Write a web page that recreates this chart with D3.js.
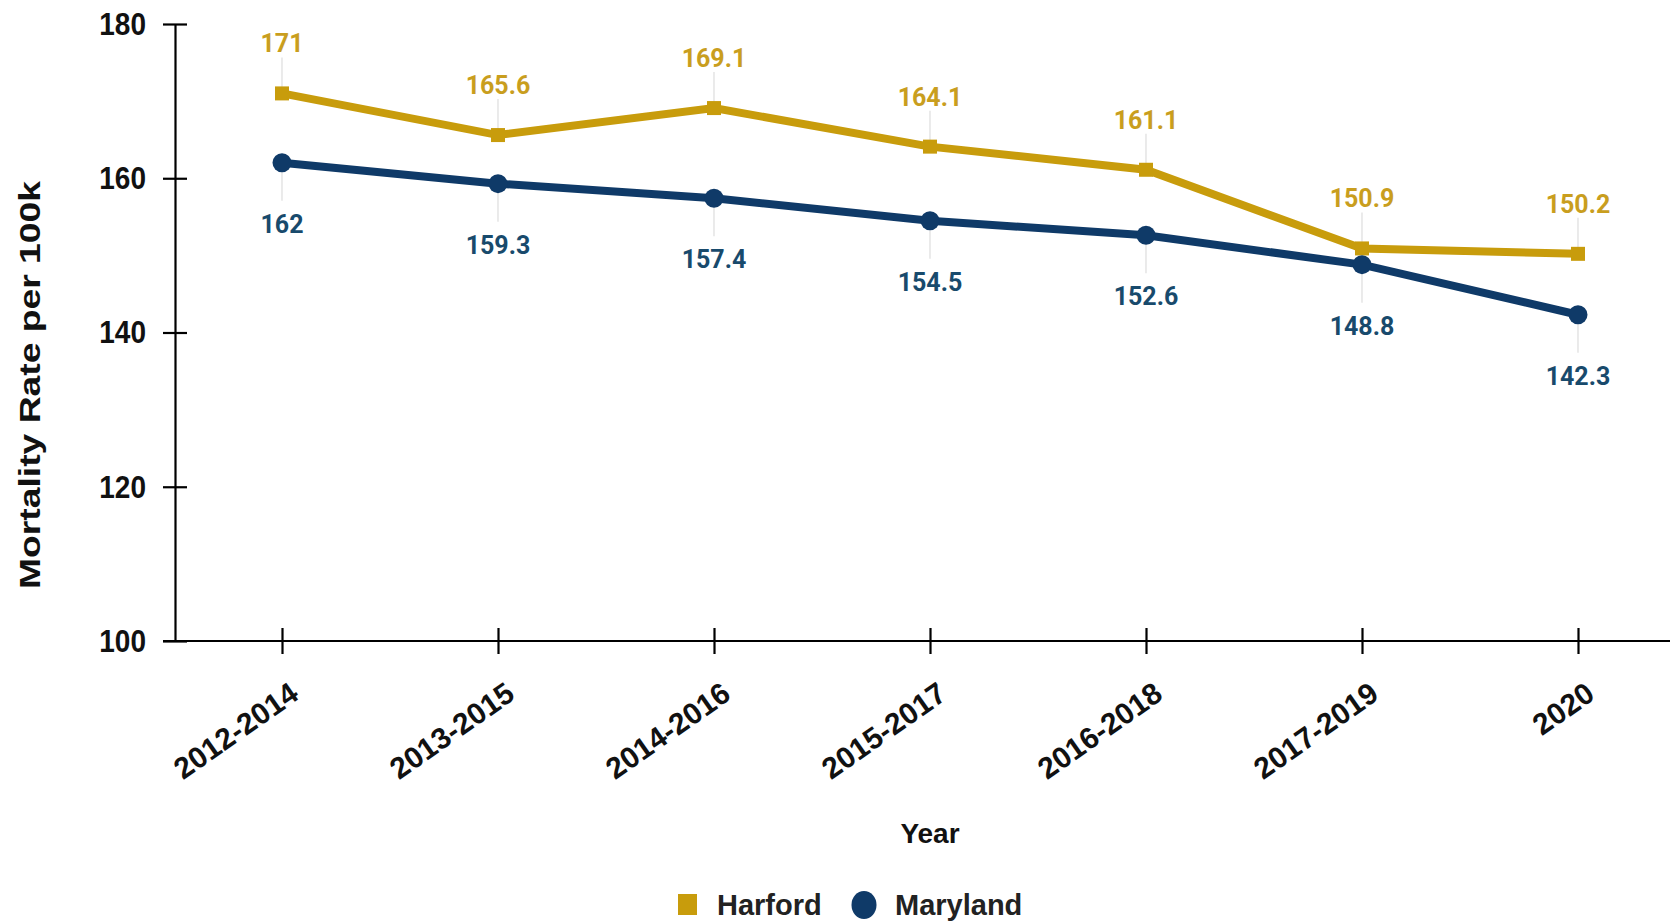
<!DOCTYPE html>
<html>
<head>
<meta charset="utf-8">
<script src="https://cdn.jsdelivr.net/npm/d3@7"></script>
<style>
  body { margin: 0; background: #ffffff; }
  svg { display: block; }
</style>
</head>
<body>
<div id="vis"></div>
<script>
// data
const YEARS = ["2012-2014", "2013-2015", "2014-2016", "2015-2017", "2016-2018", "2017-2019", "2020"];
const HARFORD = [171, 165.6, 169.1, 164.1, 161.1, 150.9, 150.2];
const MARYLAND = [162, 159.3, 157.4, 154.5, 152.6, 148.8, 142.3];
const Y_TICKS = [100, 120, 140, 160, 180];

//Declare constants for frame
const FRAME_WIDTH = 1670;
const FRAME_HEIGHT = 922;
const AXIS_X = 175;
const AXIS_Y = 641;

const GOLD = "#c89c0c";
const NAVY = "#0f3a68";
const GOLD_TEXT = "#c99e1e";
const NAVY_TEXT = "#184a6c";
const AXIS_FONT = "'Liberation Sans', Arial, sans-serif";
const LABEL_FONT = "Roboto, 'Noto Sans', sans-serif";

const FRAME = d3.select("#vis")
                .append("svg")
                  .attr("width", FRAME_WIDTH)
                  .attr("height", FRAME_HEIGHT);

// scales
const X_SCALE = d3.scalePoint()
                  .domain(YEARS)
                  .range([282, 1578]);

const Y_SCALE = d3.scaleLinear()
                  .domain([100, 180])
                  .range([AXIS_Y, 24]);

// y axis
const yAxis = FRAME.append("g")
    .attr("transform", "translate(" + AXIS_X + ",0)")
    .call(d3.axisLeft(Y_SCALE).tickValues(Y_TICKS).tickSize(12).tickSizeOuter(0).tickPadding(17));
yAxis.select(".domain").attr("stroke", "#000").attr("stroke-width", 2.2);
yAxis.selectAll(".tick line").attr("x1", 12).attr("x2", -12).attr("stroke-width", 2.2);
yAxis.selectAll(".tick text")
    .attr("font-family", AXIS_FONT)
    .attr("font-weight", "bold")
    .attr("font-size", "28px")
    .attr("fill", "#111")
    .attr("dy", "0.33em")
    .attr("transform", "scale(1,1.13)");

// x axis
const xAxis = FRAME.append("g")
    .attr("transform", "translate(0," + AXIS_Y + ")")
    .call(d3.axisBottom(X_SCALE).tickSize(13).tickSizeOuter(0));
xAxis.select(".domain").remove();
xAxis.append("line")
    .attr("x1", 163).attr("x2", FRAME_WIDTH)
    .attr("stroke", "#000").attr("stroke-width", 2.2);
xAxis.selectAll(".tick line").attr("y1", -13).attr("y2", 13).attr("stroke-width", 2.2);
xAxis.selectAll(".tick text")
    .attr("font-family", AXIS_FONT)
    .attr("font-weight", "bold")
    .attr("font-size", "30px")
    .attr("fill", "#111")
    .attr("text-anchor", "end")
    .attr("dy", 0)
    .attr("y", 0)
    .attr("transform", "translate(18,57) rotate(-35)");

// axis titles
FRAME.append("text")
    .attr("transform", "translate(40,385) rotate(-90)")
    .attr("text-anchor", "middle")
    .attr("font-family", AXIS_FONT)
    .attr("font-weight", "bold")
    .attr("font-size", "29px")
    .attr("textLength", 408)
    .attr("lengthAdjust", "spacingAndGlyphs")
    .attr("fill", "#111")
    .text("Mortality Rate per 100k");

FRAME.append("text")
    .attr("x", 930)
    .attr("y", 843)
    .attr("text-anchor", "middle")
    .attr("font-family", AXIS_FONT)
    .attr("font-weight", "bold")
    .attr("font-size", "28px")
    .attr("fill", "#111")
    .text("Year");

// leader lines for the labels
FRAME.selectAll(".leadH")
    .data(HARFORD)
    .enter()
    .append("line")
      .attr("x1", (d, i) => X_SCALE(YEARS[i]))
      .attr("x2", (d, i) => X_SCALE(YEARS[i]))
      .attr("y1", (d) => Y_SCALE(d) - 36)
      .attr("y2", (d) => Y_SCALE(d))
      .attr("stroke", "#dddddd")
      .attr("stroke-width", 1.2);

FRAME.selectAll(".leadM")
    .data(MARYLAND)
    .enter()
    .append("line")
      .attr("x1", (d, i) => X_SCALE(YEARS[i]))
      .attr("x2", (d, i) => X_SCALE(YEARS[i]))
      .attr("y1", (d) => Y_SCALE(d))
      .attr("y2", (d) => Y_SCALE(d) + 38)
      .attr("stroke", "#dddddd")
      .attr("stroke-width", 1.2);

// lines
const line = d3.line()
    .x((d, i) => X_SCALE(YEARS[i]))
    .y((d) => Y_SCALE(d));

FRAME.append("path")
    .datum(HARFORD)
    .attr("d", line)
    .attr("fill", "none")
    .attr("stroke", GOLD)
    .attr("stroke-width", 8);

FRAME.append("path")
    .datum(MARYLAND)
    .attr("d", line)
    .attr("fill", "none")
    .attr("stroke", NAVY)
    .attr("stroke-width", 8);

// markers
FRAME.selectAll(".sq")
    .data(HARFORD)
    .enter()
    .append("rect")
      .attr("x", (d, i) => X_SCALE(YEARS[i]) - 7)
      .attr("y", (d) => Y_SCALE(d) - 7)
      .attr("width", 14)
      .attr("height", 14)
      .attr("fill", GOLD);

FRAME.selectAll(".dot")
    .data(MARYLAND)
    .enter()
    .append("circle")
      .attr("cx", (d, i) => X_SCALE(YEARS[i]))
      .attr("cy", (d) => Y_SCALE(d))
      .attr("r", 9.5)
      .attr("fill", NAVY);

// value labels
FRAME.selectAll(".labH")
    .data(HARFORD)
    .enter()
    .append("text")
      .attr("x", (d, i) => X_SCALE(YEARS[i]))
      .attr("y", (d) => Y_SCALE(d) - 41)
      .attr("text-anchor", "middle")
      .attr("font-family", LABEL_FONT)
      .attr("font-weight", "bold")
      .attr("font-size", "25px")
      .attr("fill", GOLD_TEXT)
      .text((d) => d);

FRAME.selectAll(".labM")
    .data(MARYLAND)
    .enter()
    .append("text")
      .attr("x", (d, i) => X_SCALE(YEARS[i]))
      .attr("y", (d) => Y_SCALE(d) + 70)
      .attr("text-anchor", "middle")
      .attr("font-family", LABEL_FONT)
      .attr("font-weight", "bold")
      .attr("font-size", "25px")
      .attr("fill", NAVY_TEXT)
      .text((d) => d);

// legend
const legend = FRAME.append("g");
legend.append("rect")
    .attr("x", 678).attr("y", 894)
    .attr("width", 19).attr("height", 21)
    .attr("fill", GOLD);
legend.append("text")
    .attr("x", 717).attr("y", 915)
    .attr("font-family", AXIS_FONT)
    .attr("font-weight", "bold")
    .attr("font-size", "29px")
    .attr("fill", "#222")
    .text("Harford");
legend.append("ellipse")
    .attr("cx", 864).attr("cy", 905)
    .attr("rx", 12.5).attr("ry", 14)
    .attr("fill", NAVY);
legend.append("text")
    .attr("x", 895).attr("y", 915)
    .attr("font-family", AXIS_FONT)
    .attr("font-weight", "bold")
    .attr("font-size", "29px")
    .attr("fill", "#222")
    .text("Maryland");
</script>
</body>
</html>
